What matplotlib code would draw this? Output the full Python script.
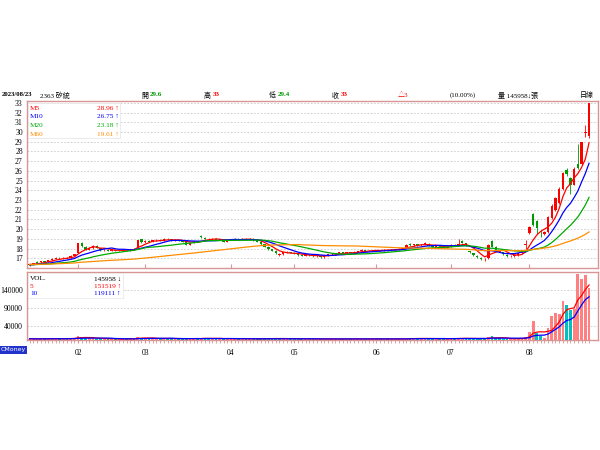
import matplotlib
matplotlib.use('Agg')
import matplotlib.pyplot as plt
from matplotlib.patches import Rectangle
import numpy as np
import pandas as pd

FONTS = ['Liberation Serif', 'Noto Sans CJK TC', 'DejaVu Sans']
plt.rcParams['font.family'] = FONTS

# trading days per month (Jan..Aug 2023) and month tick labels
month_days = [13, 18, 23, 17, 22, 20, 21, 17]
month_labels = ['02', '03', '04', '05', '06', '07', '08']

# closes before the window, only used to warm up the moving averages
prev_closes = [16.6, 16.5, 16.4, 16.3, 16.2, 16.1, 16.0, 15.9, 16.0, 16.1,
               16.2, 16.1, 16.0, 16.2, 16.3, 16.4, 16.5, 16.6, 16.5, 16.4,
               16.5, 16.6, 16.7, 16.6, 16.5, 16.6, 16.7, 16.8, 16.7, 16.6,
               16.5, 16.4, 16.5, 16.6, 16.5, 16.4, 16.3, 16.4, 16.5, 16.4,
               16.3, 16.2, 16.3, 16.4, 16.3, 16.2, 16.3, 16.4, 16.5, 16.4,
               16.3, 16.2, 16.3, 16.4, 16.3, 16.4, 16.3, 16.4, 16.3]

opens = [
    16.3, 16.4, 16.65, 16.6, 16.7, 16.65, 16.8, 16.95, 17.05, 17.0, 17.05, 17.0, 17.25,
    17.55, 18.6, 18.2, 17.9, 18.05, 18.3, 18.05, 17.85, 17.9, 17.8, 17.85, 17.75, 17.8, 17.9, 17.85, 17.95, 18.15, 18.95,
    18.65, 18.8, 18.7, 18.85, 18.9, 18.8, 19.0, 18.95, 18.85, 18.9, 18.8, 18.65, 18.4, 18.6, 18.75, 19.3, 19.1, 19.0, 18.95, 19.0, 18.9, 18.95, 18.7,
    18.9, 18.95, 19.0, 18.9, 19.0, 18.95, 19.0, 18.85, 18.7, 18.45, 18.2, 17.95, 17.8, 17.35, 17.4, 17.6, 17.6,
    17.55, 17.45, 17.3, 17.25, 17.35, 17.3, 17.2, 17.25, 17.1, 17.3, 17.4, 17.4, 17.45, 17.6, 17.5, 17.6, 17.55, 17.65, 17.7, 17.85, 17.75, 17.8,
    17.8, 17.85, 17.8, 17.9, 17.85, 17.9, 17.95, 18.0, 18.1, 18.5, 18.35, 18.45, 18.35, 18.4, 18.5, 18.3, 18.2, 18.25, 18.15, 18.1,
    18.2, 18.4, 18.4, 18.8, 18.55, 17.7, 17.5, 17.25, 17.05, 16.8, 17.0, 18.8, 18.2, 17.65, 17.6, 17.35, 17.2, 17.2, 17.3, 17.5, 18.35,
    19.6, 21.6, 20.8, 19.65, 19.5, 19.7, 21.1, 22.0, 22.7, 24.1, 26.1, 25.3, 24.6, 26.7, 26.7, 29.9, 29.6,
]
highs = [
    16.45, 16.55, 16.7, 16.75, 16.75, 16.85, 17.0, 17.1, 17.1, 17.1, 17.1, 17.3, 17.45,
    18.6, 18.7, 18.25, 18.15, 18.4, 18.35, 18.1, 17.95, 17.95, 17.9, 17.9, 17.85, 17.95, 17.95, 18.0, 18.05, 18.9, 19.0,
    18.85, 18.85, 18.9, 18.95, 18.95, 19.05, 19.05, 19.0, 18.95, 18.95, 18.85, 18.7, 18.65, 18.8, 18.8, 19.35, 19.15, 19.05, 19.05, 19.05, 19.0, 19.0, 18.95,
    19.0, 19.05, 19.05, 19.05, 19.05, 19.05, 19.05, 18.9, 18.75, 18.5, 18.25, 18.0, 17.85, 17.5, 17.65, 17.7, 17.65,
    17.6, 17.5, 17.35, 17.4, 17.4, 17.35, 17.35, 17.3, 17.35, 17.45, 17.5, 17.55, 17.65, 17.65, 17.65, 17.65, 17.7, 17.75, 17.95, 17.9, 17.85, 17.85,
    17.9, 17.9, 17.95, 17.95, 17.95, 18.0, 18.05, 18.1, 18.45, 18.55, 18.5, 18.5, 18.45, 18.7, 18.55, 18.35, 18.3, 18.3, 18.2, 18.25,
    18.45, 18.45, 19.0, 18.85, 18.6, 17.75, 17.55, 17.3, 17.1, 17.0, 18.5, 18.9, 18.25, 17.8, 17.65, 17.4, 17.3, 17.35, 17.55, 17.85, 18.9,
    20.3, 21.7, 20.9, 19.9, 19.8, 21.4, 22.6, 23.3, 24.3, 25.9, 26.3, 25.4, 26.4, 28.8, 29.0, 30.7, 33.0,
]
lows = [
    16.25, 16.35, 16.5, 16.55, 16.55, 16.6, 16.75, 16.9, 16.95, 16.95, 16.9, 16.95, 17.2,
    17.5, 18.2, 17.85, 17.85, 18.0, 18.05, 17.8, 17.75, 17.75, 17.75, 17.7, 17.7, 17.75, 17.8, 17.8, 17.9, 18.1, 18.6,
    18.6, 18.65, 18.65, 18.8, 18.75, 18.75, 18.9, 18.8, 18.8, 18.75, 18.65, 18.35, 18.35, 18.55, 18.65, 19.1, 18.95, 18.9, 18.9, 18.85, 18.85, 18.65, 18.65,
    18.85, 18.9, 18.85, 18.85, 18.9, 18.9, 18.8, 18.65, 18.4, 18.15, 17.9, 17.75, 17.45, 17.2, 17.35, 17.5, 17.5,
    17.4, 17.25, 17.2, 17.2, 17.25, 17.15, 17.15, 17.05, 17.05, 17.25, 17.35, 17.35, 17.4, 17.45, 17.45, 17.5, 17.5, 17.6, 17.65, 17.7, 17.7, 17.75,
    17.75, 17.75, 17.75, 17.8, 17.8, 17.85, 17.9, 17.95, 18.05, 18.3, 18.3, 18.3, 18.3, 18.35, 18.25, 18.15, 18.15, 18.1, 18.05, 18.05,
    18.15, 18.3, 18.35, 18.55, 18.25, 17.5, 17.25, 17.05, 16.85, 16.7, 16.95, 18.15, 17.7, 17.6, 17.35, 17.15, 17.1, 17.15, 17.25, 17.45, 18.0,
    19.5, 20.3, 19.5, 19.2, 19.4, 19.6, 21.0, 21.9, 22.6, 24.0, 25.5, 23.6, 24.5, 26.2, 26.6, 29.5, 29.4,
]
closes = [
    16.4, 16.5, 16.55, 16.7, 16.6, 16.8, 16.95, 17.05, 17.0, 17.05, 16.95, 17.25, 17.4,
    18.55, 18.3, 17.9, 18.05, 18.3, 18.1, 17.85, 17.9, 17.8, 17.85, 17.75, 17.8, 17.9, 17.85, 17.95, 18.0, 18.85, 18.65,
    18.8, 18.7, 18.85, 18.9, 18.8, 19.0, 18.95, 18.85, 18.9, 18.8, 18.7, 18.4, 18.6, 18.75, 18.7, 19.15, 19.0, 18.95, 19.0, 18.9, 18.95, 18.7, 18.9,
    18.95, 19.0, 18.9, 19.0, 18.95, 19.0, 18.85, 18.7, 18.45, 18.2, 17.95, 17.8, 17.5, 17.4, 17.6, 17.6, 17.55,
    17.45, 17.3, 17.25, 17.35, 17.3, 17.2, 17.3, 17.1, 17.3, 17.4, 17.45, 17.5, 17.6, 17.5, 17.6, 17.55, 17.65, 17.7, 17.85, 17.75, 17.8, 17.8,
    17.85, 17.8, 17.9, 17.85, 17.9, 17.95, 18.0, 18.05, 18.4, 18.35, 18.45, 18.35, 18.4, 18.55, 18.3, 18.2, 18.25, 18.15, 18.1, 18.2,
    18.4, 18.35, 18.5, 18.6, 18.3, 17.6, 17.3, 17.1, 16.9, 16.85, 18.4, 18.2, 17.75, 17.7, 17.4, 17.2, 17.2, 17.3, 17.5, 17.8, 18.5,
    20.2, 20.4, 20.1, 19.6, 19.7, 21.3, 22.4, 23.2, 24.1, 25.8, 25.7, 24.6, 26.2, 26.3, 29.0, 30.0, 33.0,
]
volumes = [
    3500, 3000, 2800, 4000, 3200, 3500, 4200, 3800, 3000, 3300, 3100, 5500, 6500,
    11000, 7000, 5000, 4500, 5500, 4000, 3800, 3200, 3000, 2800, 3000, 2900, 3200, 3000, 3500, 3800, 9500, 6000,
    5000, 4000, 4500, 4200, 3800, 5000, 4000, 3500, 3600, 3200, 3000, 3400, 5500, 4000, 3800, 3500, 6500, 4500, 4000, 3800, 3500, 3600, 3800,
    3500, 3600, 3200, 3400, 3300, 3000, 3200, 3500, 3800, 4500, 4200, 3800, 4000, 4500, 3800, 3500, 3300,
    3200, 3000, 2800, 3000, 2900, 2700, 2600, 3500, 3200, 3000, 2900, 3100, 3300, 3000, 2800, 3000, 2900, 3200, 3000, 3400, 3100, 3000,
    2900, 2800, 3000, 2900, 3100, 3000, 3200, 3300, 3500, 5500, 4200, 4500, 3800, 4000, 5000, 3600, 3400, 3300, 3200, 3100,
    5000, 4200, 5500, 4800, 4000, 4500, 4000, 3800, 3600, 3500, 7000, 12000, 5000, 4200, 3900, 3600, 3500, 3800, 4000, 5000, 8000,
    23000, 54000, 20000, 10000, 5000, 33000, 66000, 76000, 72000, 110000, 98000, 83000, 86000, 184000, 170000, 182000, 146000,
]

header = [  # (x px, text, colour, bold, size)
    (2, '2023/08/23', 'black', True, 4.8), (40, '2363 矽統', 'black', False, 5),
    (141, '開', 'black', False, 5), (150, '29.6', '#009900', True, 5),
    (204, '高', 'black', False, 5), (213, '33', 'red', True, 5),
    (269, '低', 'black', False, 5), (278, '29.4', '#009900', True, 5),
    (332, '收', 'black', False, 5), (341, '33', 'red', True, 5),
    (398, '△3', 'red', False, 5), (450, '(10.00%)', 'black', False, 5),
    (498, '量 145958↓張', 'black', False, 5), (580, '日線', 'black', False, 5),
]
ma_legend = [('M5', '28.96 ↑', '#ff0000'), ('M10', '26.75 ↑', '#0000ff'),
             ('M20', '23.18 ↑', '#00aa00'), ('M60', '19.61 ↑', '#ff8c00')]
vol_legend = [('VOL.', '145958 ↓', 'black'), ('5', '151519 ↑', '#ff0000'),
              ('10', '119111 ↑', '#0000ff')]

N = len(closes)
x = np.arange(N)
o = np.array(opens); h = np.array(highs); l = np.array(lows); c = np.array(closes)
month_starts = np.cumsum(month_days)[:-1]

allc = pd.Series(prev_closes + closes)
ma = {n: allc.rolling(n, min_periods=1).mean().values[-N:] for n in (5, 10, 20, 60)}
vol = pd.Series(volumes, dtype=float)
vma5 = vol.rolling(5, min_periods=1).mean()
vma10 = vol.rolling(10, min_periods=1).mean()

BORDER = '#d99494'
fig = plt.figure(figsize=(6, 4.5), dpi=100)
ax = fig.add_axes([27/600, 1-268/450, 571/600, 167/450])
axv = fig.add_axes([27/600, 1-340/450, 571/600, 68/450])

def pt(px, py):
    return px/600, 1-py/450

# candles
up = c >= o
ccol = np.where(up, '#ff0000', '#009900')
ax.vlines(x, l, h, colors=ccol, lw=0.6, zorder=3)
body = np.maximum(np.abs(c-o), 0.05)
ax.bar(x, body, bottom=np.minimum(o, c), width=0.65, color=ccol, lw=0, zorder=3)
for n, col in zip((5, 10, 20, 60), ('#ff0000', '#0000ff', '#00aa00', '#ff8c00')):
    ax.plot(x, ma[n], color=col, lw=0.9, zorder=4)

ax.set_xlim(-0.7, 152.4)
ax.set_ylim(16.0, 33.2)
ax.set_yticks(range(17, 34))
ax.set_xticks(month_starts)
ax.set_xticklabels([])
ax.tick_params(axis='y', length=0, labelsize=5.5, pad=3)
ax.tick_params(axis='x', direction='in', length=3, color=BORDER)
ax.yaxis.grid(True, linestyle=(0, (2, 2)), color='#c8c8c8', lw=0.6)
ax.set_axisbelow(True)

# volume
prev = np.concatenate([[o[0]], c[:-1]])
vcol = np.where(c >= prev, '#ff8080', '#00c0c0')
axv.bar(x, volumes, width=0.75, color=vcol, lw=0, zorder=3)
axv.plot(x, vma5, color='#ff0000', lw=0.9, zorder=4)
axv.plot(x, vma10, color='#0000ff', lw=0.9, zorder=4)
axv.set_xlim(-0.7, 152.4)
axv.set_ylim(0, 190000)
axv.set_yticks([40000, 90000, 140000])
axv.set_xticks(month_starts)
axv.set_xticklabels(month_labels)
axv.set_xticks(x, minor=True)
axv.tick_params(axis='y', length=0, labelsize=5.5, pad=3)
axv.tick_params(axis='x', which='both', direction='out', length=2.5, color=BORDER, labelsize=5.5, pad=4)
axv.yaxis.grid(True, linestyle=(0, (2, 2)), color='#c8c8c8', lw=0.6)
axv.set_axisbelow(True)

for a in (ax, axv):
    for s in a.spines.values():
        s.set_color(BORDER)
        s.set_linewidth(1)

# legend boxes
ax.add_patch(Rectangle((0.002, 0.78), 0.161, 0.21, transform=ax.transAxes,
                       facecolor='white', edgecolor='#e4e4e4', lw=0.5, zorder=6))
for i, (name, val, col) in enumerate(ma_legend):
    yy = 108 + i*8.7
    fig.text(*pt(30, yy), name, color=col, fontsize=5.2, va='center', zorder=7)
    fig.text(*pt(119, yy), val, color=col, fontsize=5.2, va='center', ha='right', zorder=7)
axv.add_patch(Rectangle((0.002, 0.62), 0.166, 0.36, transform=axv.transAxes,
                        facecolor='white', edgecolor='#e4e4e4', lw=0.5, zorder=6))
for i, (name, val, col) in enumerate(vol_legend):
    yy = 279 + i*7.2
    fig.text(*pt(30, yy), name, color=col, fontsize=5.2, va='center', zorder=7)
    fig.text(*pt(121, yy), val, color=col, fontsize=5.2, va='center', ha='right', zorder=7)

for px, txt, col, bold, fs in header:
    fig.text(*pt(px, 95), txt, color=col, fontsize=fs, va='center',
             fontweight='bold' if bold else 'normal')

fig.text(*pt(1, 350), 'CMoney', color='white', fontsize=4.5, va='center',
         family=['DejaVu Sans'],
         bbox=dict(facecolor='#2233cc', edgecolor='none', pad=0.8))

plt.savefig('out.png', dpi=100)
